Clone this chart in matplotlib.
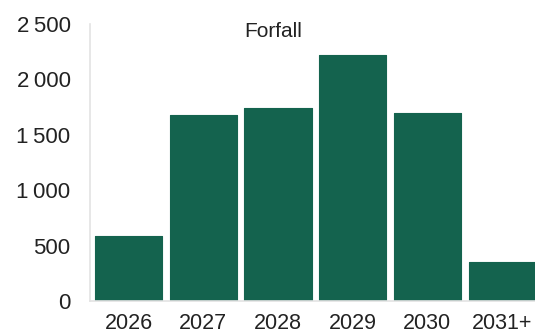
import matplotlib
matplotlib.use('Agg')
import matplotlib.pyplot as plt
from matplotlib.ticker import FuncFormatter

years = ['2026', '2027', '2028', '2029', '2030', '2031+']
forfall = [590, 1680, 1740, 2220, 1700, 355]

plt.rcParams['font.family'] = ['Liberation Sans', 'DejaVu Sans']

fig = plt.figure(figsize=(5.35, 3.36), dpi=100)
ax = fig.add_axes([90 / 535, 35 / 336, 445 / 535, 277 / 336])

xs = range(len(years))
ax.bar(xs, forfall, width=0.9, color='#14634e', edgecolor='#14634e',
       linewidth=0.8, joinstyle='round')

ax.set_xlim(-0.517, 5.44)
ax.set_ylim(0, 2500)
ax.set_yticks([0, 500, 1000, 1500, 2000, 2500])
ax.yaxis.set_major_formatter(FuncFormatter(lambda v, p: f'{int(v):,}'.replace(',', '\u2009')))
ax.set_xticks(list(xs))
ax.set_xticklabels(years)

for side in ['top', 'right']:
    ax.spines[side].set_visible(False)
for side in ['left', 'bottom']:
    ax.spines[side].set_color('#e3e3e3')
    ax.spines[side].set_linewidth(1.2)

ax.tick_params(axis='both', length=0, labelsize=16, colors='#222222')
ax.tick_params(axis='y', pad=14)
ax.tick_params(axis='x', pad=8.5, labelsize=15.5)

fig.text(0.51, 0.905, 'Forfall', ha='center', va='center', fontsize=15, color='#222222')

fig.savefig('out.png', dpi=100)
